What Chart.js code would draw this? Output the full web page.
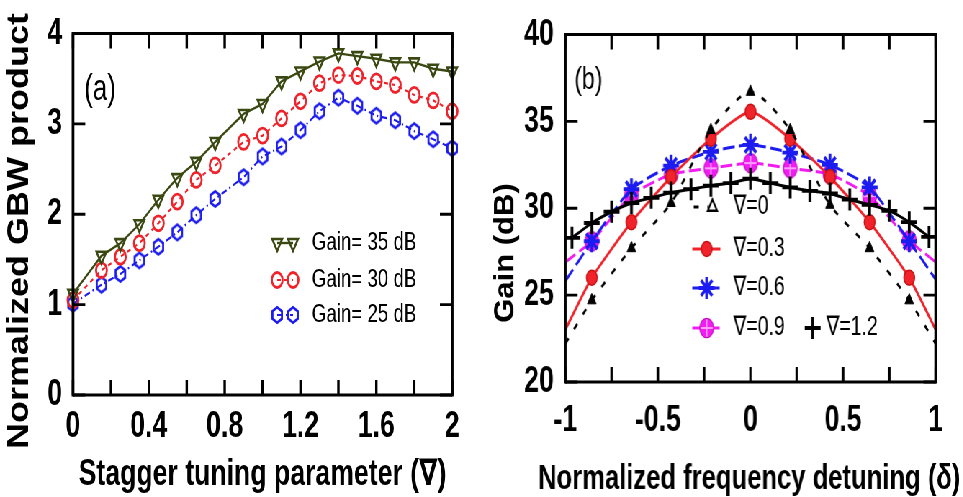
<!DOCTYPE html>
<html>
<head>
<meta charset="utf-8">
<script src="https://cdn.jsdelivr.net/npm/chart.js@4/dist/chart.umd.min.js"></script>
<style>
  html, body { margin: 0; padding: 0; background: #fff; overflow: hidden; }
  /* the figure is laid out wide and then narrowed horizontally as a whole */
  #stage { position: absolute; left: 0; top: 0; width: 1337.5px; height: 497px;
           transform: scaleX(0.72); transform-origin: 0 0; }
  #boxA { position: absolute; left: 0; top: 0; width: 667px; height: 497px; }
  #boxB { position: absolute; left: 667px; top: 0; width: 670.5px; height: 497px; }
</style>
</head>
<body>
<div id="stage">
  <div id="boxA"><canvas id="chartA"></canvas></div>
  <div id="boxB"><canvas id="chartB"></canvas></div>
</div>
<script>
// ---------- panel (a): normalized GBW product vs stagger tuning parameter ----------
const staggerNabla = [0, 0.15, 0.25, 0.35, 0.45, 0.55, 0.65, 0.75, 0.9, 1.0,
                      1.1, 1.2, 1.3, 1.4, 1.5, 1.6, 1.7, 1.8, 1.9, 2.0];
const gbwGain35 = [1.12, 1.54, 1.68, 1.89, 2.16, 2.40, 2.58, 2.80, 3.11, 3.22,
                   3.47, 3.58, 3.69, 3.78, 3.75, 3.72, 3.68, 3.68, 3.61, 3.58];
const gbwGain30 = [1.05, 1.38, 1.53, 1.68, 1.90, 2.14, 2.38, 2.54, 2.80, 2.87,
                   3.06, 3.25, 3.45, 3.54, 3.53, 3.47, 3.43, 3.32, 3.26, 3.14];
const gbwGain25 = [1.01, 1.22, 1.34, 1.49, 1.64, 1.80, 1.99, 2.17, 2.41, 2.64,
                   2.75, 2.93, 3.14, 3.29, 3.20, 3.09, 3.04, 2.92, 2.83, 2.73];
const seriesLabelsA = ['Gain= 35 dB', 'Gain= 30 dB', 'Gain= 25 dB'];
const xTicksA = { min: 0, max: 2, step: 0.2 };
const yTicksA = { min: 0, max: 4, step: 1 };

// ---------- panel (b): gain vs normalized frequency detuning ----------
const detuning = [-1, -0.857, -0.643, -0.429, -0.214, 0, 0.214, 0.429, 0.643, 0.857, 1];
const gainNabla0  = [22.2, 24.7, 27.7, 30.3, 34.5, 36.7, 34.5, 30.2, 27.7, 24.7, 22.2];
const gainNabla03 = [23.0, 26.0, 29.2, 31.8, 34.0, 35.55, 34.0, 31.8, 29.2, 26.0, 23.0];
const gainNabla06 = [25.8, 28.1, 31.1, 32.45, 33.25, 33.65, 33.2, 32.5, 31.2, 28.1, 25.9];
const gainNabla09 = [26.9, 28.1, 30.75, 31.95, 32.3, 32.6, 32.3, 31.95, 30.7, 28.15, 26.9];
const detuningFine = [-0.964, -0.857, -0.75, -0.643, -0.536, -0.429, -0.321, -0.214, -0.107, 0,
                      0.107, 0.214, 0.321, 0.429, 0.536, 0.643, 0.75, 0.857, 0.964];
const gainNabla12 = [28.3, 29.15, 29.8, 30.3, 30.6, 30.9, 31.1, 31.3, 31.45, 31.7,
                     31.45, 31.2, 31.0, 30.85, 30.5, 30.2, 29.85, 29.2, 28.35];
const seriesLabelsB = ['\u2207=0', '\u2207=0.3', '\u2207=0.6', '\u2207=0.9', '\u2207=1.2'];
const xTicksB = { min: -1, max: 1, step: 0.25 };
const yTicksB = { min: 20, max: 40, step: 5 };

const FAMILY = '"Liberation Sans", "DejaVu Sans", Arial, sans-serif';
const OLIVE = '#3a4812', RED = '#f0222a', BLUE = '#1c1cf0', MAGENTA = '#f21cf2';

const pts = (xs, ys) => xs.map((x, i) => ({ x, y: ys[i] }));
const fmt = v => String(Math.round(v * 100) / 100);

// custom marker images
function hexagonMarker(color) {
  const s = 20, c = document.createElement('canvas');
  c.width = s; c.height = s;
  const g = c.getContext('2d');
  g.strokeStyle = color; g.lineWidth = 2.8;
  g.beginPath();
  for (let k = 0; k < 6; k++) {
    const a = Math.PI / 6 + k * Math.PI / 3;
    const px = s / 2 + 7.6 * Math.cos(a), py = s / 2 + 7.6 * Math.sin(a);
    k ? g.lineTo(px, py) : g.moveTo(px, py);
  }
  g.closePath(); g.stroke();
  return c;
}
function circlePlusMarker(color) {
  const s = 24, c = document.createElement('canvas');
  c.width = s; c.height = s;
  const g = c.getContext('2d');
  g.fillStyle = color;
  g.beginPath(); g.arc(s / 2, s / 2, 9, 0, Math.PI * 2); g.fill();
  g.strokeStyle = '#ff9cff'; g.lineWidth = 2;
  g.beginPath(); g.moveTo(s / 2, 2); g.lineTo(s / 2, s - 2); g.moveTo(2, s / 2); g.lineTo(s - 2, s / 2); g.stroke();
  g.strokeStyle = '#c800c8'; g.lineWidth = 1.5;
  g.beginPath(); g.arc(s / 2, s / 2, 9.5, 0, Math.PI * 2); g.stroke();
  return c;
}
const hexBlue = hexagonMarker(BLUE);
const plusMagenta = circlePlusMarker(MAGENTA);

// edge points of panel (b) curves carry no marker
const innerOnly = (n, r) => Array.from({ length: n }, (_, i) => (i === 0 || i === n - 1) ? 0 : r);

// frame, inward ticks, panel tag, axis titles and in-plot legend
const framePlugin = {
  id: 'frameDeco',
  afterDatasetsDraw(chart, args, o) {
    const { ctx, chartArea: a, scales: { x, y } } = chart;
    ctx.save();
    ctx.strokeStyle = '#000';
    ctx.lineCap = 'butt';
    // frame
    ctx.lineWidth = 2.8;
    ctx.beginPath();
    ctx.moveTo(a.left, a.top); ctx.lineTo(a.right, a.top);
    ctx.moveTo(a.left, a.bottom); ctx.lineTo(a.right, a.bottom);
    ctx.stroke();
    ctx.lineWidth = 3.8;
    ctx.beginPath();
    ctx.moveTo(a.left, a.top - 1.4); ctx.lineTo(a.left, a.bottom + 1.4);
    ctx.moveTo(a.right, a.top - 1.4); ctx.lineTo(a.right, a.bottom + 1.4);
    ctx.stroke();
    // inward ticks
    ctx.lineWidth = 3.4;
    ctx.beginPath();
    x.ticks.forEach(t => {
      const px = x.getPixelForValue(t.value);
      ctx.moveTo(px, a.bottom); ctx.lineTo(px, a.bottom - o.tickLen);
      ctx.moveTo(px, a.top); ctx.lineTo(px, a.top + o.tickLen);
    });
    ctx.stroke();
    ctx.lineWidth = 2.8;
    ctx.beginPath();
    y.ticks.forEach(t => {
      const py = y.getPixelForValue(t.value);
      ctx.moveTo(a.left, py); ctx.lineTo(a.left + o.tickLenX, py);
      ctx.moveTo(a.right, py); ctx.lineTo(a.right - o.tickLenX, py);
    });
    ctx.stroke();

    // panel tag
    ctx.fillStyle = '#000';
    ctx.textAlign = 'center'; ctx.textBaseline = 'middle';
    ctx.font = `${o.tag.size}px ${FAMILY}`;
    ctx.fillText(o.tag.text, o.tag.x, o.tag.y);

    // x title drawn free of the plot-width limit
    if (o.xTitle) {
      ctx.font = `bold ${o.xTitle.size}px ${FAMILY}`;
      ctx.fillText(o.xTitle.text, o.xTitle.x, o.xTitle.y);
    }

    // rotated y title (glyphs widened across the line to offset the page narrowing)
    ctx.save();
    ctx.translate(o.yTitle.x, o.yTitle.y);
    ctx.rotate(-Math.PI / 2);
    ctx.scale(1, o.yTitle.thick);
    ctx.font = `bold ${o.yTitle.size}px ${FAMILY}`;
    ctx.fillText(o.yTitle.text, 0, 0);
    ctx.restore();

    // legend entries
    ctx.font = `${o.legend.size}px ${FAMILY}`;
    ctx.textAlign = 'left';
    o.legend.items.forEach(it => {
      const ds = chart.data.datasets[it.ds];
      const cy = it.y;
      if (it.lineFrom !== undefined) {
        ctx.save();
        ctx.strokeStyle = ds.borderColor;
        ctx.lineWidth = ds.borderWidth;
        ctx.setLineDash(ds.borderDash || []);
        ctx.beginPath(); ctx.moveTo(it.lineFrom, cy); ctx.lineTo(it.lineTo, cy); ctx.stroke();
        ctx.restore();
      }
      const mk = Object.assign({
        style: ds.pointStyle,
        radius: Array.isArray(ds.pointRadius) ? Math.max(...ds.pointRadius) : ds.pointRadius,
        rotation: ds.pointRotation || 0, width: ds.pointBorderWidth,
        fill: ds.pointBackgroundColor, stroke: ds.pointBorderColor
      }, it.marker || {});
      it.marks.forEach(mx => {
        ctx.save();
        ctx.fillStyle = mk.fill;
        ctx.strokeStyle = mk.stroke;
        ctx.lineWidth = mk.width;
        Chart.helpers.drawPoint(ctx, {
          pointStyle: mk.style, radius: mk.radius, rotation: mk.rotation, borderWidth: mk.width
        }, mx, cy);
        ctx.restore();
      });
      ctx.fillStyle = '#000';
      ctx.fillText(it.text, it.textX, cy);
    });
    ctx.restore();
  }
};

const tickFont = { family: FAMILY, size: 37, weight: 'bold', lineHeight: 1 };
function linearAxis(range, pad, sizeFn, labelEvery, title) {
  const axis = {
    type: 'linear', min: range.min, max: range.max,
    grid: { display: false, drawTicks: false },
    border: { display: false },
    ticks: {
      stepSize: range.step, autoSkip: false, maxRotation: 0, color: '#000',
      padding: pad, font: tickFont,
      callback: (v, i) => (i % labelEvery ? '' : fmt(v))
    },
    afterFit: sizeFn
  };
  if (title) axis.title = title;
  return axis;
}

// ---------- chart (a) ----------
new Chart(document.getElementById('chartA'), {
  type: 'line',
  data: {
    datasets: [
      { label: seriesLabelsA[0], data: pts(staggerNabla, gbwGain35),
        borderColor: OLIVE, borderWidth: 2.4, tension: 0,
        pointStyle: 'triangle', pointRotation: 180, pointRadius: 8,
        pointBorderWidth: 2.6, pointBorderColor: OLIVE, pointBackgroundColor: 'rgba(0,0,0,0)', clip: false },
      { label: seriesLabelsA[1], data: pts(staggerNabla, gbwGain30),
        borderColor: RED, borderWidth: 2.2, borderDash: [5, 5], tension: 0,
        pointStyle: 'circle', pointRadius: 7.5,
        pointBorderWidth: 2.8, pointBorderColor: RED, pointBackgroundColor: 'rgba(0,0,0,0)', clip: false },
      { label: seriesLabelsA[2], data: pts(staggerNabla, gbwGain25),
        borderColor: BLUE, borderWidth: 2.2, borderDash: [8, 4, 2, 4], tension: 0,
        pointStyle: hexBlue, pointRadius: 8,
        pointBorderWidth: 2.6, pointBorderColor: BLUE, pointBackgroundColor: 'rgba(0,0,0,0)', clip: false }
    ]
  },
  options: {
    animation: false, responsive: true, maintainAspectRatio: false,
    layout: { padding: { left: 0, right: 39, top: 33, bottom: 0 } },
    plugins: {
      legend: { display: false }, tooltip: { enabled: false },
      frameDeco: {
        tickLen: 15, tickLenX: 17,
        tag: { text: '(a)', x: 139, y: 90, size: 36 },
        yTitle: { text: 'Normalized GBW product', x: 27, y: 231, size: 36, thick: 1.2 },
        legend: { size: 26, items: [
          { ds: 0, y: 243, lineFrom: 385, lineTo: 407, marks: [385, 407], textX: 433, text: seriesLabelsA[0] },
          { ds: 1, y: 280, lineFrom: 385, lineTo: 407, marks: [385, 407], textX: 433, text: seriesLabelsA[1] },
          { ds: 2, y: 315, lineFrom: 385, lineTo: 407, marks: [385, 407], textX: 433, text: seriesLabelsA[2] }
        ] }
      }
    },
    scales: {
      x: linearAxis(xTicksA, 13, s => { s.height = 102; }, 2,
        { display: true, text: 'Stagger tuning parameter (\u2207)', color: '#000',
          font: { family: FAMILY, size: 37, weight: 'bold', lineHeight: 1 }, padding: { top: 0, bottom: 4 } }),
      y: linearAxis(yTicksA, 15, s => { s.width = 101.4; }, 1)
    }
  },
  plugins: [framePlugin]
});

// ---------- chart (b) ----------
new Chart(document.getElementById('chartB'), {
  type: 'line',
  data: {
    datasets: [
      { label: seriesLabelsB[4], data: pts(detuningFine, gainNabla12),
        borderColor: '#000', borderWidth: 3, tension: 0.2,
        pointStyle: 'cross', pointRadius: 11, pointBorderWidth: 3.8,
        pointBorderColor: '#000', pointBackgroundColor: '#000', clip: false },
      { label: seriesLabelsB[0], data: pts(detuning, gainNabla0),
        borderColor: '#000', borderWidth: 2.8, borderDash: [7, 12], tension: 0.25,
        pointStyle: 'triangle', pointRadius: innerOnly(detuning.length, 7), pointBorderWidth: 1,
        pointBorderColor: '#000', pointBackgroundColor: '#000', clip: false },
      { label: seriesLabelsB[1], data: pts(detuning, gainNabla03),
        borderColor: RED, borderWidth: 3, tension: 0.2,
        pointStyle: 'circle', pointRadius: innerOnly(detuning.length, 7.5), pointBorderWidth: 1.5,
        pointBorderColor: '#c81010', pointBackgroundColor: RED, clip: false },
      { label: seriesLabelsB[2], data: pts(detuning, gainNabla06),
        borderColor: BLUE, borderWidth: 3, borderDash: [16, 6], tension: 0.2,
        pointStyle: 'star', pointRadius: innerOnly(detuning.length, 11), pointBorderWidth: 3.8,
        pointBorderColor: BLUE, pointBackgroundColor: BLUE, clip: false },
      { label: seriesLabelsB[3], data: pts(detuning, gainNabla09),
        borderColor: MAGENTA, borderWidth: 3, borderDash: [16, 6], tension: 0.2,
        pointStyle: plusMagenta, pointRadius: innerOnly(detuning.length, 9), pointBorderWidth: 1.5,
        pointBorderColor: MAGENTA, pointBackgroundColor: MAGENTA, clip: false }
    ]
  },
  options: {
    animation: false, responsive: true, maintainAspectRatio: false,
    layout: { padding: { left: 0, right: 38.9, top: 30, bottom: 0 } },
    plugins: {
      legend: { display: false }, tooltip: { enabled: false },
      frameDeco: {
        tickLen: 15, tickLenX: 17,
        tag: { text: '(b)', x: 150, y: 80, size: 32 },
        xTitle: { text: 'Normalized frequency detuning (\u03b4)', x: 373, y: 479, size: 35.5 },
        yTitle: { text: 'Gain (dB)', x: 35, y: 253, size: 31, thick: 1.25 },
        legend: { size: 27, items: [
          { ds: 1, y: 207, lineFrom: 296, lineTo: 316, marks: [322], textX: 351, text: seriesLabelsB[0],
            marker: { fill: '#fff', stroke: '#000', width: 2.4, radius: 7.5 } },
          { ds: 2, y: 249, lineFrom: 294, lineTo: 333, marks: [314], textX: 351, text: seriesLabelsB[1] },
          { ds: 3, y: 288, lineFrom: 294, lineTo: 333, marks: [314], textX: 351, text: seriesLabelsB[2] },
          { ds: 4, y: 328, lineFrom: 294, lineTo: 333, marks: [314], textX: 351, text: seriesLabelsB[3] },
          { ds: 0, y: 328, marks: [461], textX: 480, text: seriesLabelsB[4] }
        ] }
      }
    },
    scales: {
      x: linearAxis(xTicksB, 20, s => { s.height = 115; }, 2),
      y: linearAxis(yTicksB, 16, s => { s.width = 118; }, 1)
    }
  },
  plugins: [framePlugin]
});
</script>
</body>
</html>
